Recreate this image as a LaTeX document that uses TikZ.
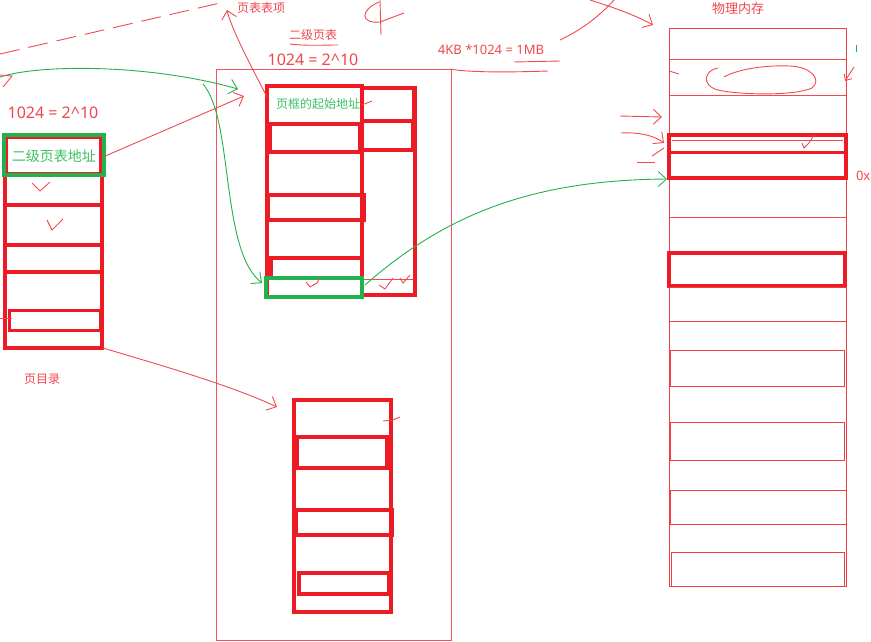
\documentclass[tikz,border=0pt]{standalone}
\usepackage{fontspec}
\setmainfont{Noto Sans}
\newfontfamily\cjk{Noto Sans CJK SC}
\usetikzlibrary{arrows.meta}
\definecolor{pred}{HTML}{ED1C24}
\definecolor{pgreen}{HTML}{22B14C}
\definecolor{tred}{HTML}{F0464C}
\definecolor{tgreen}{HTML}{3CBF62}
\begin{document}
\begin{tikzpicture}[x=1pt,y=-1pt,
  every node/.style={inner sep=0pt, outer sep=0pt},
  tb/.style={draw=pred, line width=3.5pt, anchor=north west},
  gb/.style={draw=pgreen, line width=3.5pt, anchor=north west},
  tn/.style={draw=pred!85, line width=1pt, anchor=north west},
  rtxt/.style={text=tred},
  gtxt/.style={text=tgreen},
  rline/.style={draw=pred!80, line width=0.9pt},
  gline/.style={draw=pgreen, line width=0.9pt},
  tip/.style={-{Straight Barb[length=8pt,width=15pt]}},
  smalltip/.style={-{Straight Barb[length=5pt,width=9pt]}},
]
\useasboundingbox (0,0) rectangle (871,641);

% ---------- texts
\node[rtxt, font=\cjk\fontsize{12}{12}\selectfont] (ttitle) at (261,8) {页表表项};
\node[rtxt, font=\cjk\fontsize{12}{12}\selectfont] (t2title) at (313,35) {二级页表};
\node[rtxt, font=\fontsize{16}{16}\selectfont] (tmid) at (313,60) {1024 = 2\^{}10};
\node[rtxt, font=\fontsize{16}{16}\selectfont] (tleft) at (53,113) {1024 = 2\^{}10};
\node[rtxt, font=\fontsize{13}{13}\selectfont] (tmb) at (491,50) {4KB *1024 = 1MB};
\node[rtxt, font=\cjk\fontsize{13}{13}\selectfont] (tmem) at (738,9) {物理内存};
\node[rtxt, font=\fontsize{13}{13}\selectfont, anchor=west] (t0x) at (856,176) {0x};
\node[rtxt, font=\cjk\fontsize{12}{12}\selectfont] (tpd) at (42,379) {页目录};

% ---------- middle frame
\node[draw=pred!75, line width=0.8pt, anchor=north west, minimum width=235, minimum height=571] (frame) at (216,69) {};

% ---------- page directory
\node[tb, minimum width=97, minimum height=213] (pd) at (5,135) {};
\node[tb, minimum width=97, minimum height=30] (pd2) at (5,175) {};
\node[tb, minimum width=97, minimum height=27] (pd4) at (5,245) {};
\node[tb, line width=3pt, minimum width=91, minimum height=20] (pd6) at (9,310) {};
\node[draw=pred, line width=1.2pt, anchor=north west, minimum width=93, minimum height=35] (pd1in) at (7,138) {};
\node[gb, minimum width=100, minimum height=40] (pd1) at (4,135) {};
\node[gtxt, font=\cjk\fontsize{14}{14}\selectfont] (pdt) at (54,156) {二级页表地址};

% ---------- page table A
\node[tb, minimum width=95, minimum height=211] (pta) at (267,86) {};
\node[tb, minimum width=95, minimum height=38] (pta1) at (267,86) {};
\node[tb, minimum width=90, minimum height=28] (pta2) at (270,124) {};
\node[tb, minimum width=96, minimum height=25] (pta4) at (268,195) {};
\node[tb, minimum width=91, minimum height=20] (pta6) at (271,258) {};
\node[tb, minimum width=53, minimum height=207] (ptar) at (362,88) {};
\node[tb, minimum width=52, minimum height=33] (ptar1) at (362,88) {};
\node[tb, minimum width=51, minimum height=29] (ptar2) at (362,121) {};
\draw[rline] (362,279) -- (413,279);
\node[gb, minimum width=96, minimum height=19] (pta7) at (266,278) {};
\node[gtxt, font=\cjk\fontsize{12}{12}\selectfont] (ptat) at (318,104) {页框的起始地址};

% ---------- page table B
\node[tb, minimum width=97, minimum height=212] (ptb) at (294,400) {};
\node[tb, minimum width=90, minimum height=31] (ptb2) at (297,437) {};
\node[tb, minimum width=96, minimum height=25] (ptb4) at (296,510) {};
\node[tb, minimum width=90, minimum height=21] (ptb6) at (299,573) {};

% ---------- physical memory
\node[tn, minimum width=177, minimum height=558] (mem) at (669,28) {};
\draw[rline] (669,59) -- (846,59);
\draw[rline] (669,95) -- (846,95);
\draw[rline] (669,217) -- (846,217);
\node[tb, minimum width=177, minimum height=43] (memA) at (669,135) {};
\draw[pred, line width=3pt] (669,152) -- (846,152);
\draw[rline] (672,140) -- (843,140);
\node[tb, minimum width=176, minimum height=33] (memB) at (669,253) {};
\node[tn, minimum width=177, minimum height=34] (memC) at (669,287) {};
\node[tn, minimum width=174, minimum height=36] (memD) at (670,350) {};
\node[tn, minimum width=174, minimum height=38] (memE) at (670,422) {};
\node[tn, minimum width=176, minimum height=34] (memF) at (670,490) {};
\node[tn, minimum width=173, minimum height=34] (memG) at (671,552) {};

% ---------- coordinates for free ends
\coordinate (dashA) at (0,54);
\coordinate (dashB) at (220,3);
\coordinate (upEnd) at (227,10);
\coordinate (upStart) at (267,97);
\coordinate (gTopS) at (0,77);
\coordinate (gTopE) at (238,89);
\coordinate (gDownS) at (203,84);
\coordinate (gDownE) at (262,283);
\coordinate (rAddrE) at (244,96);
\coordinate (rAddrS) at (103,157);
\coordinate (rPdS) at (103,348);
\coordinate (rPdE) at (277,407);
\coordinate (gMemS) at (365,285);
\coordinate (gMemE) at (667,179);
\coordinate (a1s) at (620,116);
\coordinate (a1e) at (662,117);
\coordinate (a2s) at (621,133);
\coordinate (a2e) at (664,143);
\coordinate (a3s) at (590,0);
\coordinate (a3e) at (653,25);
\coordinate (a4s) at (854,67);
\coordinate (a4e) at (845,81);

% ---------- connectors
\draw[rline, dash pattern=on 20pt off 9pt] (dashA) -- (dashB);
\draw[rline, tip] (upStart) .. controls (248,60) and (232,30) .. (upEnd);
\draw[gline, tip] (gTopS) .. controls (40,64) and (150,64) .. (gTopE);
\draw[gline, tip] (gDownS) .. controls (234,120) and (220,250) .. (gDownE);
\draw[rline, tip] (rAddrS) -- (rAddrE);
\draw[rline, tip] (rPdS) .. controls (160,365) and (230,385) .. (rPdE);
\draw[gline, tip] (gMemS) .. controls (450,210) and (540,180) .. (gMemE);
\draw[rline, tip] (a1s) -- (a1e);
\draw[rline, tip] (a2s) .. controls (640,132) and (655,136) .. (a2e);
\draw[rline, tip] (a3s) .. controls (615,8) and (635,15) .. (a3e);
\draw[rline, smalltip] (a4s) -- (a4e);

% ---------- scribbles
\draw[rline] (514,62) -- (560,61);
\draw[rline] (450,69) .. controls (470,73) and (520,72) .. (548,71);
\draw[rline] (290,44) .. controls (305,46) and (325,45) .. (338,45);
\draw[rline] (379,2) .. controls (360,10) and (360,24) .. (380,22) -- (404,13);
\draw[rline] (380,0) -- (381,35);
\draw[rline] (560,40) .. controls (585,28) and (600,15) .. (614,0);
\draw[rline] (724,77) .. controls (740,68) and (770,65) .. (790,66)
  .. controls (812,67) and (822,80) .. (812,88)
  .. controls (795,96) and (740,95) .. (718,90)
  .. controls (700,85) and (705,70) .. (718,68);
\draw[rline] (669,71) -- (679,74);
\draw[rline] (0,75) -- (12,76) -- (3,87);
\draw[rline] (0,318) -- (12,318);
\draw[rline] (362,105) -- (372,101);
\draw[rline] (383,421) -- (393,420) -- (400,417);
\draw[rline] (652,156) -- (664,148);
\draw[rline] (637,162) -- (655,162);
\draw[rline] (32,183) -- (40,191) -- (50,182);
\draw[rline] (47,220) -- (52,230) -- (63,219);
\draw[rline] (306,282) -- (310,287) -- (317,283) -- (320,277);
\draw[rline] (379,285) -- (385,289) -- (393,278);
\draw[rline] (400,278) -- (403,283) -- (410,275);
\draw[rline] (802,143) -- (804,148) -- (809,143) -- (814,135);
\draw[gline] (856,45) -- (856,52);
\end{tikzpicture}
\end{document}
